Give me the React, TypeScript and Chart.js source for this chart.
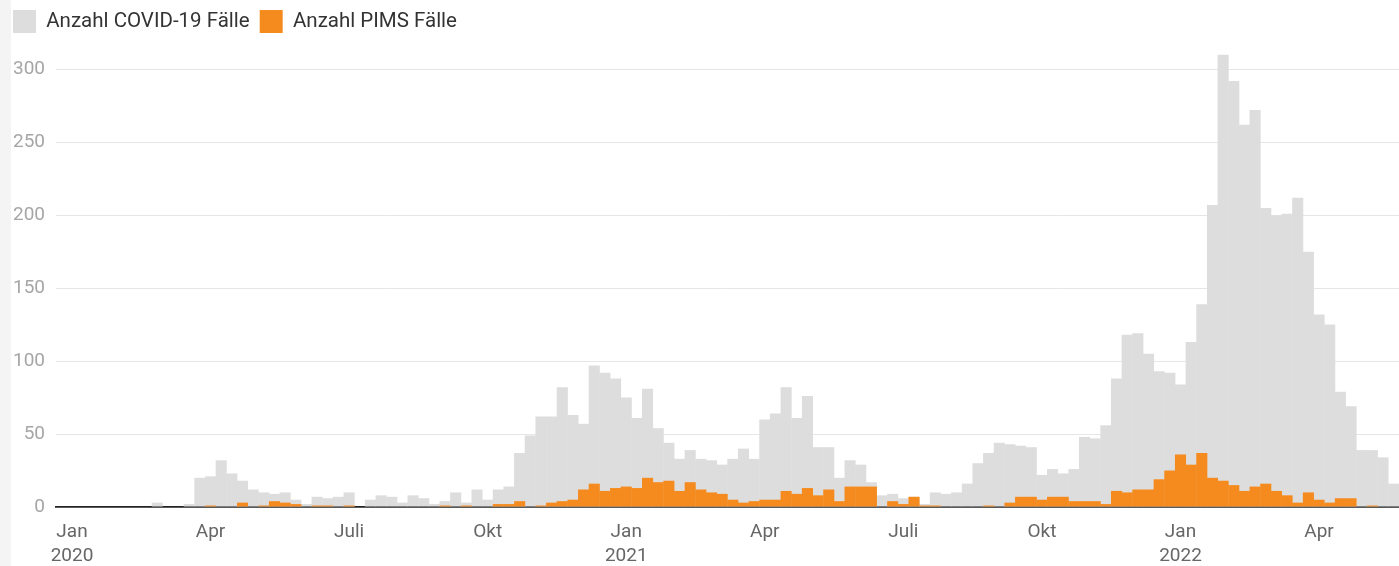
import React, { useEffect, useRef } from "react";
import { Chart, registerables } from "chart.js";

Chart.register(...registerables);

// Calendar weeks: KW52 2019 ... KW20 2022 (126 weeks)
const weekYears: [number, number, number][] = [
  [2019, 52, 52],
  [2020, 1, 53],
  [2021, 1, 52],
  [2022, 1, 20],
];
const weekLabels: string[] = [];
weekYears.forEach(([y, from, to]) => {
  for (let w = from; w <= to; w++) weekLabels.push(`KW${String(w).padStart(2, "0")} ${y}`);
});

const covidCases: number[] = [
  // KW52 2019, 2020 KW1..KW53
  0, 0, 0, 0, 0, 0, 0, 0, 0, 3, 0, 0, 2, 20, 21, 32, 23, 18, 12, 10,
  9, 10, 5, 2, 7, 6, 7, 10, 0, 5, 8, 7, 3, 8, 6, 2, 4, 10, 3, 12,
  5, 12, 14, 37, 49, 62, 62, 82, 63, 57, 97, 92, 88, 75,
  // 2021 KW1..KW52
  61, 81, 54, 44, 33, 39, 33, 32, 29, 33, 40, 33, 60, 64, 82, 61, 76, 41, 41, 20,
  32, 29, 17, 8, 9, 6, 7, 2, 10, 9, 10, 16, 30, 37, 44, 43, 42, 41, 22, 26,
  23, 26, 48, 47, 56, 88, 118, 119, 105, 93, 92, 84,
  // 2022 KW1..KW20
  113, 139, 207, 310, 292, 262, 272, 205, 200, 201, 212, 175, 132, 125, 79, 69, 39, 39, 34, 16,
];

const pimsCases: number[] = [
  // KW52 2019, 2020 KW1..KW53
  0, 0, 0, 0, 0, 0, 0, 0, 0, 0, 0, 0, 0, 0, 1, 0, 0, 3, 0, 1,
  4, 3, 2, 0, 1, 1, 0, 1, 0, 0, 0, 0, 0, 0, 0, 0, 1, 0, 1, 0,
  0, 2, 2, 4, 0, 1, 3, 4, 5, 12, 16, 11, 13, 14,
  // 2021 KW1..KW52
  13, 20, 17, 18, 11, 17, 12, 10, 9, 5, 3, 4, 5, 5, 11, 9, 13, 8, 12, 4,
  14, 14, 14, 0, 4, 2, 7, 1, 1, 0, 0, 0, 0, 1, 0, 3, 7, 7, 5, 7,
  7, 4, 4, 4, 2, 11, 10, 12, 12, 19, 25, 36,
  // 2022 KW1..KW20
  29, 37, 20, 18, 15, 11, 14, 16, 11, 8, 3, 10, 5, 3, 6, 6, 0, 1, 0, 0,
];

const tickLabels: Record<string, string | string[]> = {
  "KW01 2020": ["Jan", "2020"],
  "KW14 2020": "Apr",
  "KW27 2020": "Juli",
  "KW40 2020": "Okt",
  "KW53 2020": ["Jan", "2021"],
  "KW13 2021": "Apr",
  "KW26 2021": "Juli",
  "KW39 2021": "Okt",
  "KW52 2021": ["Jan", "2022"],
  "KW13 2022": "Apr",
};

const seriesNames = ["Anzahl COVID-19 Fälle", "Anzahl PIMS Fälle"];

export default function App() {
  const ref = useRef<HTMLCanvasElement | null>(null);
  useEffect(() => {
    if (!ref.current) return;
    const chart = new Chart(ref.current, {
      type: "bar",
      data: {
        labels: weekLabels,
        datasets: [
          {
            label: seriesNames[0],
            data: covidCases,
            backgroundColor: "#dddddd",
            borderWidth: 0,
            grouped: false,
            order: 1,
            barPercentage: 1.04,
            categoryPercentage: 1,
          },
          {
            label: seriesNames[1],
            data: pimsCases,
            backgroundColor: "#f58b1f",
            borderWidth: 0,
            grouped: false,
            order: 0,
            barPercentage: 1.04,
            categoryPercentage: 1,
          },
        ],
      },
      options: {
        responsive: false,
        animation: false,
        devicePixelRatio: 1,
        layout: { padding: { left: 3, right: 0, top: 0, bottom: 0 } },
        plugins: {
          tooltip: { enabled: false },
          legend: {
            position: "top",
            align: "start",
            labels: {
              boxWidth: 23,
              boxHeight: 23,
              padding: 10,
              color: "#333333",
              font: { family: "Roboto", size: 20.5 },
              sort: (a: any, b: any) => a.datasetIndex - b.datasetIndex,
            },
          },
        },
        scales: {
          x: {
            afterFit: (s: any) => {
              s.height = 59;
              s.paddingLeft = 0;
              s.paddingRight = 0;
            },
            grid: { display: false, drawTicks: false },
            border: { display: true, color: "#222222", width: 1.8 },
            ticks: {
              autoSkip: false,
              maxRotation: 0,
              minRotation: 0,
              padding: 14,
              color: "#666666",
              font: { family: "Roboto", size: 19, lineHeight: 1.22 },
              callback: (_v: any, i: number) => tickLabels[weekLabels[i]] ?? "",
            },
          },
          y: {
            min: 0,
            max: 318,
            afterFit: (s: any) => {
              s.width = 53;
            },
            afterBuildTicks: (s: any) => {
              s.ticks = s.ticks.filter((t: any) => t.value % 50 === 0);
            },
            grid: {
              color: (c: any) => (c.tick && c.tick.value === 0 ? "rgba(0,0,0,0)" : "#e6e6e6"),
              drawTicks: false,
              lineWidth: 1,
            },
            border: { display: false },
            ticks: {
              stepSize: 50,
              padding: 11,
              color: "#a6a6a6",
              font: { family: "Roboto", size: 19 },
            },
          },
        },
      },
    });
    return () => chart.destroy();
  }, []);
  return (
    <div
      style={{
        position: "fixed",
        left: 0,
        top: 0,
        width: 1399,
        height: 566,
        background: "linear-gradient(to right, #f4f4f4 0px, #f4f4f4 11px, #ffffff 11px)",
      }}
    >
      <canvas ref={ref} width={1399} height={566} style={{ width: 1399, height: 566, display: "block" }} />
    </div>
  );
}
